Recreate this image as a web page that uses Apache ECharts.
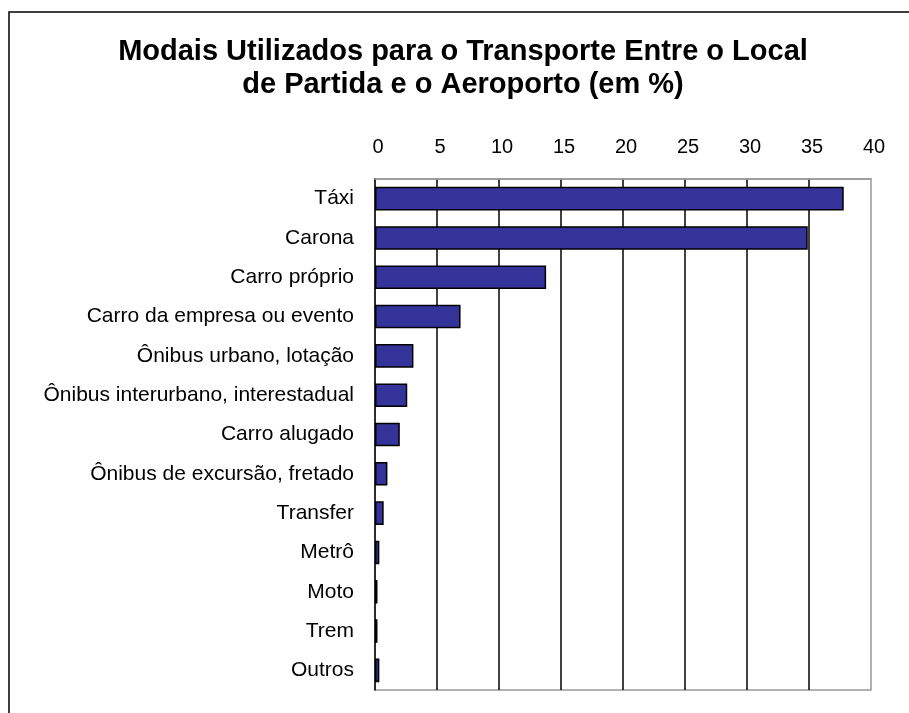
<!DOCTYPE html>
<html>
<head>
<meta charset="utf-8">
<script src="https://cdn.jsdelivr.net/npm/echarts@6/dist/echarts.min.js"></script>
<style>
	html, body { margin: 0; padding: 0; background: #fff; }
	#chart { width: 909px; height: 713px; }
</style>
</head>
<body>
<div id="chart"></div>
<script>
	// categorias (de cima para baixo)
	var modais = ['Táxi', 'Carona', 'Carro próprio', 'Carro da empresa ou evento',
		'Ônibus urbano, lotação', 'Ônibus interurbano, interestadual', 'Carro alugado',
		'Ônibus de excursão, fretado', 'Transfer', 'Metrô', 'Moto', 'Trem', 'Outros'];
	// percentuais
	var percentuais = [37.8, 34.9, 13.8, 6.9, 3.1, 2.6, 2.0, 1.0, 0.7, 0.35, 0.2, 0.2, 0.35];
	var tituloTexto = 'Modais Utilizados para o Transporte Entre o Local\nde Partida e o Aeroporto (em %)';

	var chart = echarts.init(document.getElementById('chart'));
	var fonte = '"Liberation Sans", Arial, sans-serif';

	var option = {
		animation: false,
		backgroundColor: '#fff',
		textStyle: { fontFamily: fonte },
		title: {
			text: tituloTexto,
			left: 463,
			top: 35,
			padding: 0,
			textAlign: 'center',
			textStyle: {
				fontFamily: fonte,
				fontSize: 29,
				fontWeight: 'bold',
				color: '#000',
				lineHeight: 33
			}
		},
		graphic: [{
			type: 'rect',
			shape: { x: 9, y: 12, width: 1000, height: 1000 },
			style: { fill: 'none', stroke: '#000', lineWidth: 1.5 },
			silent: true
		}],
		grid: {
			left: 375,
			right: 38,
			top: 179,
			bottom: 23,
			show: true,
			borderColor: '#999',
			borderWidth: 1.5,
			backgroundColor: 'transparent'
		},
		xAxis: {
			type: 'value',
			position: 'top',
			min: 0,
			max: 40,
			interval: 5,
			axisLine: { show: true, lineStyle: { color: '#999', width: 1.5 } },
			axisTick: { show: false },
			axisLabel: {
				color: '#000',
				fontSize: 20,
				fontFamily: fonte,
				margin: 22,
				padding: [0, 0, 0, 6]
			},
			splitLine: {
				show: true,
				showMinLine: false,
				showMaxLine: false,
				lineStyle: { color: '#000', width: 1.5 }
			}
		},
		yAxis: {
			type: 'category',
			inverse: true,
			data: modais,
			axisLine: { show: true, lineStyle: { color: '#000', width: 1.5 } },
			axisTick: { show: false },
			axisLabel: {
				color: '#000',
				fontSize: 21,
				fontFamily: fonte,
				margin: 21
			}
		},
		series: [{
			type: 'bar',
			data: percentuais,
			barCategoryGap: '40%',
			itemStyle: {
				color: '#333399',
				borderColor: '#000',
				borderWidth: 1.5
			}
		}]
	};

	chart.setOption(option);
</script>
</body>
</html>
